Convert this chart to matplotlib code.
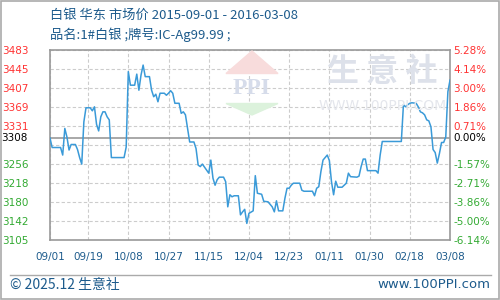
import matplotlib
matplotlib.use('Agg')
import matplotlib.pyplot as plt
import matplotlib.dates as mdates
from matplotlib.patches import Polygon, Rectangle
import pandas as pd

plt.rcParams['font.family'] = ['Noto Sans CJK SC', 'DejaVu Sans']

# silver price (East China): day offset from 2015-09-01 and price
days = [0, 1, 5, 6, 7, 8, 9, 10, 12, 13, 14, 15, 16, 17, 19, 20, 21, 22, 23, 24,
        25, 26, 27, 28, 29, 35, 36, 37, 38, 40, 41, 42, 43, 44, 45, 47, 48, 49, 50, 51,
        52, 54, 55, 56, 57, 58, 59, 61, 62, 63, 64, 65, 66, 68, 69, 70, 71, 72, 75, 76,
        77, 78, 79, 80, 82, 83, 84, 85, 86, 87, 89, 90, 91, 92, 93, 94, 96, 97, 98, 100,
        101, 103, 104, 105, 106, 107, 108, 110, 111, 112, 113, 114, 115, 118, 119, 120, 124, 125, 126, 127,
        128, 129, 131, 132, 133, 134, 135, 136, 138, 139, 140, 141, 142, 145, 146, 147, 148, 149, 150, 154,
        155, 156, 157, 166, 167, 168, 169, 170, 171, 173, 174, 175, 176, 177, 178, 179, 180, 181, 182, 183,
        184, 185, 186, 187, 188, 189]
prices = [3308, 3289, 3289, 3274, 3327, 3310, 3284, 3295, 3295, 3285, 3269, 3256, 3340, 3368, 3368, 3362, 3370, 3335, 3322, 3350,
          3360, 3360, 3350, 3344, 3269, 3269, 3290, 3440, 3413, 3413, 3435, 3403, 3433, 3453, 3430, 3430, 3403, 3390, 3395, 3380,
          3397, 3397, 3393, 3397, 3402, 3397, 3377, 3377, 3357, 3360, 3354, 3327, 3300, 3300, 3287, 3254, 3251, 3256, 3238, 3264,
          3228, 3214, 3225, 3230, 3230, 3221, 3171, 3195, 3191, 3193, 3193, 3155, 3161, 3166, 3138, 3158, 3163, 3233, 3198, 3196,
          3182, 3181, 3176, 3171, 3161, 3183, 3163, 3163, 3188, 3208, 3208, 3214, 3218, 3218, 3204, 3202, 3202, 3193, 3208, 3211,
          3241, 3264, 3274, 3263, 3221, 3195, 3222, 3210, 3210, 3214, 3218, 3238, 3231, 3230, 3232, 3251, 3266, 3266, 3243, 3243,
          3238, 3274, 3301, 3301, 3374, 3370, 3374, 3377, 3378, 3377, 3370, 3360, 3358, 3354, 3344, 3342, 3330, 3285, 3279, 3258,
          3277, 3299, 3299, 3310, 3400, 3423]

base_price = 3308
y_ticks = [3105, 3142, 3180, 3218, 3256, 3294, 3331, 3369, 3407, 3445, 3483]
y_labels = ['3105', '3142', '3180', '3218', '3256', '', '3331', '3369', '3407', '3445', '3483']
pct_labels = ['-6.14%', '-5.00%', '-3.86%', '-2.71%', '-1.57%', '', '0.71%', '1.86%', '3.00%', '4.14%', '5.28%']
x_ticks = ['2015-09-01', '2015-09-19', '2015-10-08', '2015-10-27', '2015-11-15', '2015-12-04',
           '2015-12-23', '2016-01-11', '2016-01-30', '2016-02-18', '2016-03-08']

start = pd.Timestamp('2015-09-01')
dates = [start + pd.Timedelta(days=d) for d in days]

blue_txt = '#1d5b8c'
red = '#ff3333'
green = '#33aa33'

fig = plt.figure(figsize=(5, 3), dpi=100)
ax = fig.add_axes([0.1, 0.2, 0.8, 190 / 300])

ax.plot(dates, prices, color='#3a9ad8', lw=1.1, zorder=3)
ax.axhline(base_price, color='#999999', lw=1.2, zorder=2)

ax.set_xlim(pd.Timestamp(x_ticks[0]), pd.Timestamp(x_ticks[-1]))
ax.set_ylim(y_ticks[0], y_ticks[-1])
ax.set_xticks(pd.to_datetime(x_ticks))
ax.xaxis.set_major_formatter(mdates.DateFormatter('%m/%d'))
ax.set_yticks(y_ticks)
ax.set_yticklabels(y_labels)
ax.grid(True, color='#cccccc', linestyle=(0, (3, 2)), lw=0.8)
ax.tick_params(length=0, labelsize=7.5)
ax.tick_params(axis='y', pad=15.5)
ax.tick_params(axis='x', pad=8.5)
for lbl in ax.get_xticklabels():
    lbl.set_color(blue_txt)
    lbl.set_family('DejaVu Sans')
for lbl, v in zip(ax.get_yticklabels(), y_ticks):
    lbl.set_color(red if v > base_price else green)
    lbl.set_family('DejaVu Sans')
for s in ax.spines.values():
    s.set_color('#999999')
    s.set_linewidth(1.2)

ax2 = ax.twinx()
ax2.set_ylim(ax.get_ylim())
ax2.set_yticks(y_ticks)
ax2.set_yticklabels(pct_labels)
ax2.tick_params(length=0, labelsize=7.5, pad=2.5)
for lbl, v in zip(ax2.get_yticklabels(), y_ticks):
    lbl.set_color(red if v > base_price else green)
    lbl.set_family('DejaVu Sans')
for s in ax2.spines.values():
    s.set_visible(False)

# base labels on the solid line
ax.text(-0.055, base_price, str(base_price), transform=ax.get_yaxis_transform(),
        ha='right', va='center', fontsize=7.5, color='black', family='DejaVu Sans')
ax.text(1.0075, base_price, '0.00%', transform=ax.get_yaxis_transform(),
        ha='left', va='center', fontsize=7.5, color='black', family='DejaVu Sans')

# watermark
logo_top = Polygon([(0.504, 0.83), (0.556, 0.755), (0.452, 0.755)],
                   closed=True, transform=fig.transFigure, color='#f8dcdc', zorder=1)
logo_bot = Polygon([(0.452, 0.655), (0.556, 0.655), (0.504, 0.6167)],
                   closed=True, transform=fig.transFigure, color='#dcf2dc', zorder=1)
fig.patches.extend([logo_top, logo_bot])
fig.text(0.504, 0.705, 'PPI', ha='center', va='center', fontsize=17, color='#d6dcea',
         family='Liberation Serif', fontweight='bold')
fig.text(0.765, 0.76, '生 意 社', ha='center', va='center', fontsize=23, color='#dde1ea', fontweight='bold')
fig.text(0.765, 0.645, 'WWW.100PPI.COM', ha='center', va='center', fontsize=10, color='#e4e6ec',
         family='DejaVu Sans')

# titles
fig.text(0.1, 0.95, '白银 华东 市场价 2015-09-01 - 2016-03-08', ha='left', va='center',
         fontsize=9.5, color=blue_txt)
fig.text(0.1, 0.883, '品名:1#白银 ;牌号:IC-Ag99.99 ;', ha='left', va='center',
         fontsize=9.5, color=blue_txt)

# footer
fig.add_artist(plt.Line2D([0.02, 0.982], [0.083, 0.083], transform=fig.transFigure,
                          color='#aaaaaa', lw=1))
fig.text(0.02, 0.05, '© 2025.12 生意社', ha='left', va='center', fontsize=10, color=blue_txt)
fig.text(0.98, 0.05, 'www.100PPI.com', ha='right', va='center', fontsize=9.5, color=blue_txt,
         family='DejaVu Sans')
fig.add_artist(Rectangle((0.001, 0.002), 0.997, 0.995, transform=fig.transFigure,
                         fill=False, edgecolor='#aaaaaa', lw=1.2))

fig.savefig('out.png', dpi=100)
